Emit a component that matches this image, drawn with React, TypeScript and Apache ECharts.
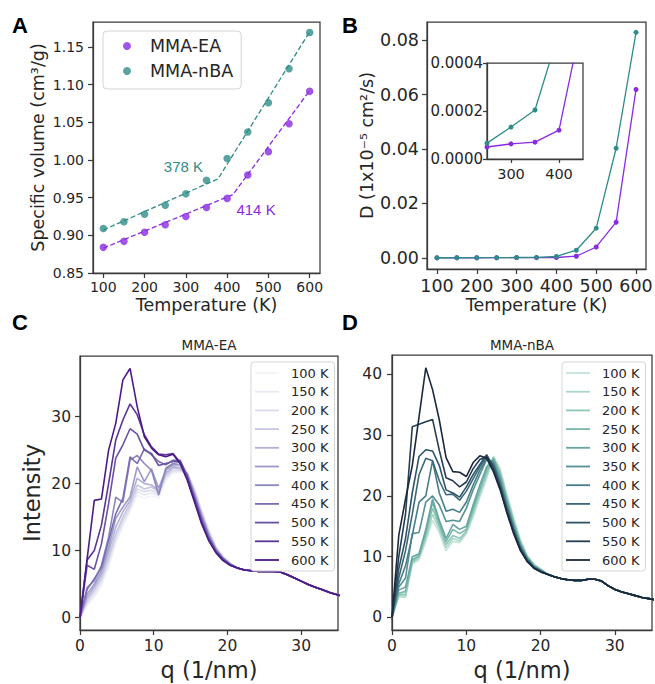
import React, { useEffect, useRef } from 'react';
import * as echarts from 'echarts';

// ---------- Panel A / B data ----------
const temps = [100, 150, 200, 250, 300, 350, 400, 450, 500, 550, 600];
const volEA = [0.884, 0.892, 0.904, 0.914, 0.925, 0.937, 0.949, 0.980, 1.011, 1.048, 1.091];
const volNBA = [0.909, 0.918, 0.928, 0.940, 0.955, 0.973, 1.002, 1.037, 1.076, 1.121, 1.169];
const fitTempEA = [100, 414, 600];
const fitVolEA = [0.883, 0.954, 1.092];
const fitTempNBA = [100, 378, 600];
const fitVolNBA = [0.907, 0.975, 1.170];
const diffEA = [0.00002, 0.00003, 0.00004, 0.00005, 0.000063, 0.00007, 0.00012, 0.0006, 0.0040, 0.0131, 0.0619];
const diffNBA = [0.00003, 0.00004, 0.00005, 0.000066, 0.000133, 0.000204, 0.00053, 0.0028, 0.0109, 0.0403, 0.0829];

const tempTicks = [100, 200, 300, 400, 500, 600];
const volTicks = [0.85, 0.9, 0.95, 1.0, 1.05, 1.1, 1.15];
const diffTicks = [0, 0.02, 0.04, 0.06, 0.08];
const insetTempTicks = [300, 400];
const insetDiffTicks = [0, 0.0002, 0.0004];
const qTicks = [0, 10, 20, 30];
const intTicksC = [0, 10, 20, 30];
const intTicksD = [0, 10, 20, 30, 40];
const curveLabels = ['100 K', '150 K', '200 K', '250 K', '300 K', '350 K', '400 K', '450 K', '500 K', '550 K', '600 K'];

// ---------- Panel C (MMA-EA) ----------
const qC = [0, 0.97, 1.94, 2.91, 3.88, 4.85, 5.82, 6.79, 7.76, 8.73, 9.70, 10.67, 11.64, 12.61, 13.58, 14.55, 15.52, 16.49, 17.46, 18.43, 19.40, 20.37, 21.34, 22.31, 23.28, 24.25, 25.22, 26.19, 27.16, 28.13, 29.10, 30.07, 31.04, 32.01, 32.98, 33.95, 34.92, 35.89];
const ea100 = [0, 1.8, 3.0, 4.8, 7.5, 11.0, 13.6, 15.8, 18.3, 17.8, 18.2, 17.8, 20.5, 21.6, 21.7, 21.6, 19.4, 16.2, 13.2, 10.7, 9.1, 8.1];
const ea150 = [0, 2.0, 3.4, 5.2, 8.0, 11.5, 14.0, 16.2, 18.8, 18.3, 18.6, 18.2, 20.8, 21.8, 21.8, 21.6, 19.2, 16.0, 13.0, 10.6, 9.1, 8.1];
const ea200 = [0, 2.3, 3.8, 5.6, 8.5, 12.0, 14.5, 16.5, 19.2, 18.8, 19.0, 18.5, 21.0, 22.0, 22.0, 21.6, 19.0, 15.8, 12.9, 10.5, 9.0, 8.1];
const ea250 = [0, 2.6, 4.2, 6.0, 9.0, 12.5, 15.0, 17.0, 19.8, 19.2, 19.5, 18.8, 21.3, 22.3, 22.2, 21.5, 18.8, 15.6, 12.7, 10.4, 9.0, 8.1];
const ea300 = [0, 3.0, 4.6, 6.5, 9.8, 13.5, 15.8, 17.5, 20.8, 20.0, 19.8, 19.0, 21.6, 22.5, 22.4, 21.5, 18.6, 15.4, 12.5, 10.3, 8.9, 8.0];
const ea350 = [0, 3.5, 5.0, 7.0, 10.5, 14.8, 16.5, 18.0, 22.5, 20.3, 22.2, 19.3, 22.0, 22.8, 22.8, 21.4, 18.4, 15.2, 12.4, 10.2, 8.9, 8.0];
const ea400 = [0, 4.5, 5.5, 7.8, 12.0, 18.0, 17.2, 23.5, 24.2, 23.0, 22.0, 18.3, 22.3, 23.0, 23.2, 21.3, 18.2, 15.0, 12.2, 10.1, 8.8, 8.0];
const ea450 = [0, 4.2, 5.8, 7.5, 11.5, 15.5, 17.8, 24.0, 23.0, 25.2, 24.3, 23.3, 22.8, 23.5, 23.5, 21.2, 18.0, 14.8, 12.0, 10.0, 8.8, 7.9];
const ea500 = [0, 7.8, 7.2, 11.0, 17.0, 23.8, 25.8, 28.2, 27.4, 25.0, 24.5, 22.7, 23.0, 23.3, 23.4, 21.0, 17.8, 14.5, 11.8, 9.9, 8.7, 7.9];
const ea550 = [0, 8.6, 10.0, 13.8, 20.0, 26.5, 29.5, 31.9, 30.3, 27.3, 25.5, 24.4, 24.3, 24.5, 23.2, 20.8, 17.5, 14.2, 11.6, 9.8, 8.6, 7.8];
const ea600 = [0, 8.8, 17.5, 17.7, 25.0, 29.0, 35.5, 37.2, 31.5, 27.0, 25.3, 24.3, 24.0, 24.4, 23.0, 20.5, 17.3, 14.0, 11.5, 9.7, 8.5, 7.8];
const eaTail = [7.4, 7.1, 7.0, 6.9, 6.9, 6.9, 6.8, 6.4, 5.9, 5.4, 4.9, 4.5, 4.1, 3.7, 3.4, 3.1];
const eaCurves = [ea100, ea150, ea200, ea250, ea300, ea350, ea400, ea450, ea500, ea550, ea600];

// ---------- Panel D (MMA-nBA) ----------
const qD = [0, 0.91, 1.82, 2.73, 3.64, 4.55, 5.46, 6.37, 7.28, 8.19, 9.10, 10.01, 10.92, 11.83, 12.74, 13.65, 14.56, 15.47, 16.38, 17.29, 18.20, 19.11, 20.02, 20.93, 21.84, 22.75, 23.66, 24.57, 25.48, 26.39, 27.30, 28.21, 29.12, 30.03, 30.94, 31.85, 32.76, 33.67, 34.58, 35.49];
const nba100 = [0, 3.4, 3.3, 8.8, 9.5, 12.5, 16.0, 14.0, 11.0, 12.5, 12.3, 13.8, 16.5, 19.8, 22.8, 26.5, 24.5, 20.3, 16.4, 12.8, 10.2, 8.8, 8.0];
const nba150 = [0, 3.6, 3.5, 9.0, 9.8, 13.0, 17.0, 14.5, 11.5, 13.0, 12.6, 14.0, 17.0, 20.3, 23.3, 26.4, 24.2, 20.0, 16.1, 12.6, 10.1, 8.7, 7.9];
const nba200 = [0, 3.8, 3.8, 9.2, 10.0, 13.5, 18.0, 15.0, 12.0, 13.5, 13.0, 14.2, 17.5, 20.8, 23.8, 26.3, 23.8, 19.6, 15.8, 12.4, 10.0, 8.6, 7.9];
const nba250 = [0, 4.0, 4.3, 9.5, 10.2, 14.0, 19.0, 15.5, 12.5, 14.5, 13.8, 14.5, 18.0, 21.2, 24.3, 26.2, 23.4, 19.3, 15.5, 12.2, 9.9, 8.5, 7.8];
const nba300 = [0, 4.5, 5.0, 10.0, 10.5, 14.5, 19.5, 16.0, 13.0, 15.3, 14.5, 15.0, 18.5, 21.8, 24.8, 26.0, 23.0, 19.0, 15.2, 12.0, 9.8, 8.5, 7.8];
const nba350 = [0, 5.0, 6.5, 13.8, 14.0, 19.0, 20.0, 18.5, 15.8, 16.0, 15.8, 18.0, 21.0, 23.5, 26.0, 25.6, 22.5, 18.6, 14.9, 11.8, 9.7, 8.4, 7.7];
const nba400 = [0, 5.5, 8.5, 13.5, 19.0, 20.0, 25.8, 20.5, 17.5, 17.8, 17.3, 19.0, 21.8, 24.2, 26.2, 25.3, 22.2, 18.3, 14.7, 11.6, 9.6, 8.3, 7.7];
const nba450 = [0, 6.5, 11.0, 17.0, 23.5, 26.2, 25.8, 22.5, 20.2, 20.3, 19.3, 20.8, 22.8, 24.8, 26.5, 25.0, 21.8, 18.0, 14.4, 11.4, 9.5, 8.3, 7.6];
const nba500 = [0, 8.0, 13.0, 20.5, 26.5, 27.6, 27.4, 25.0, 21.0, 20.5, 19.8, 21.5, 23.5, 25.2, 26.8, 24.8, 21.6, 17.7, 14.2, 11.3, 9.4, 8.2, 7.6];
const nba550 = [0, 10.0, 17.0, 31.4, 31.8, 32.2, 32.6, 27.5, 23.0, 22.5, 21.5, 22.3, 24.5, 26.0, 26.5, 24.3, 21.3, 17.4, 14.0, 11.1, 9.3, 8.1, 7.5];
const nba600 = [0, 13.5, 19.5, 25.0, 33.0, 41.1, 37.5, 32.5, 26.3, 24.0, 23.9, 23.2, 25.5, 26.6, 26.2, 24.0, 21.0, 17.2, 13.8, 11.0, 9.2, 8.1, 7.5];
const nbaTail = [7.1, 6.7, 6.4, 6.2, 6.1, 6.1, 6.3, 6.3, 6.0, 5.2, 4.6, 4.2, 3.9, 3.6, 3.3, 3.1, 2.9];
const nbaCurves = [nba100, nba150, nba200, nba250, nba300, nba350, nba400, nba450, nba500, nba550, nba600];

// ---------- styles ----------
const PURPLE = '#8a2be2';
const TEAL = '#2f8c88';
const AX = '#3a3a3a';
const TXT = '#262626';
const FONT = 'DejaVu Sans';
const PURPLES = ['#f3f2f8', '#e8e7f2', '#dadaeb', '#c6c7e1', '#b2b1d5', '#9e9ac8', '#8a87bf', '#796eb2', '#6a51a3', '#5b3596', '#4d1a89'];

function cubehelix(n: number, start: number, rot: number, light = 0.85, dark = 0.15, hue = 0.8): string[] {
  const out: string[] = [];
  for (let i = 0; i < n; i++) {
    const x = light + ((dark - light) * i) / (n - 1);
    const a = (hue * x * (1 - x)) / 2;
    const phi = 2 * Math.PI * (start / 3 + rot * x);
    const c = Math.cos(phi);
    const s = Math.sin(phi);
    const r = x + a * (-0.14861 * c + 1.78277 * s);
    const g = x + a * (-0.29227 * c - 0.90649 * s);
    const b = x + a * (1.97294 * c);
    const h = (v: number) => Math.round(Math.max(0, Math.min(1, v)) * 255).toString(16).padStart(2, '0');
    out.push('#' + h(r) + h(g) + h(b));
  }
  return out;
}
const GREENS = cubehelix(11, 2.892, -0.285);

const zip = (xs: number[], ys: number[]) => ys.map((y, i) => [xs[i], y]);

function axis(o: any) {
  return {
    type: 'value',
    gridIndex: o.grid,
    min: o.min,
    max: o.max,
    name: o.name || '',
    nameLocation: 'middle',
    nameGap: o.nameGap || 0,
    nameTextStyle: { fontSize: o.nameSize || 17.5, color: TXT, fontFamily: FONT },
    axisLine: { show: true, onZero: false, lineStyle: { color: AX, width: 1.25 } },
    axisTick: { show: true, inside: false, length: o.tickLen || 5, customValues: o.ticks, lineStyle: { color: AX, width: 1.25 } },
    axisLabel: {
      show: true,
      customValues: o.ticks,
      margin: o.margin || 8,
      fontSize: o.fontSize || 14,
      color: TXT,
      fontFamily: FONT,
      formatter: o.fmt || ((v: number) => String(v)),
    },
    splitLine: { show: false },
  };
}

function gridBox(left: number, top: number, width: number, height: number) {
  return {
    left, top, width, height,
    show: true,
    backgroundColor: '#fff',
    borderColor: AX,
    borderWidth: 1.25,
    containLabel: false,
    outerBoundsMode: 'none',
  };
}

function curveLegend(prefix: string, left: number) {
  return {
    data: curveLabels.map((t) => prefix + '|' + t),
    formatter: (name: string) => name.split('|')[1],
    orient: 'vertical',
    left,
    top: 362,
    padding: [4, 6, 4, 4],
    itemGap: 4.7,
    itemWidth: 24,
    itemHeight: 1.8,
    icon: 'rect',
    backgroundColor: 'rgba(255,255,255,0.85)',
    borderColor: '#d6d6d6',
    borderWidth: 1,
    borderRadius: 3,
    selectedMode: false,
    textStyle: { fontSize: 13, color: TXT, fontFamily: FONT, padding: [0, 0, 0, 7], lineHeight: 14 },
  };
}

export default function App() {
  const ref = useRef<HTMLDivElement>(null);
  useEffect(() => {
    document.body.style.margin = '0';
    const chart = echarts.init(ref.current!, null, { renderer: 'svg' });
    const f2 = (v: number) => v.toFixed(2);
    const f4 = (v: number) => v.toFixed(4);

    const series: any[] = [
      // Panel A fits
      {
        name: 'fitEA', type: 'line', xAxisIndex: 0, yAxisIndex: 0, data: zip(fitTempEA, fitVolEA),
        symbol: 'none', lineStyle: { color: PURPLE, width: 1.3, type: [5, 2.5] }, z: 2, silent: true,
        markPoint: {
          symbol: 'circle', symbolSize: 1, itemStyle: { color: 'rgba(0,0,0,0)' }, silent: true,
          label: { show: true, position: 'inside', formatter: '414 K', color: PURPLE, fontSize: 15, fontFamily: 'Liberation Sans' },
          data: [{ coord: [470, 0.9342] }],
        },
      },
      {
        name: 'fitNBA', type: 'line', xAxisIndex: 0, yAxisIndex: 0, data: zip(fitTempNBA, fitVolNBA),
        symbol: 'none', lineStyle: { color: TEAL, width: 1.3, type: [5, 2.5] }, z: 2, silent: true,
        markPoint: {
          symbol: 'circle', symbolSize: 1, itemStyle: { color: 'rgba(0,0,0,0)' }, silent: true,
          label: { show: true, position: 'inside', formatter: '378 K', color: TEAL, fontSize: 15, fontFamily: 'Liberation Sans' },
          data: [{ coord: [294, 0.9918] }],
        },
      },
      { name: 'MMA-EA', type: 'scatter', xAxisIndex: 0, yAxisIndex: 0, data: zip(temps, volEA), symbolSize: 7.5, itemStyle: { color: PURPLE }, z: 3 },
      { name: 'MMA-nBA', type: 'scatter', xAxisIndex: 0, yAxisIndex: 0, data: zip(temps, volNBA), symbolSize: 7.5, itemStyle: { color: TEAL }, z: 3 },
      // Panel B
      { name: 'B-EA', type: 'line', xAxisIndex: 1, yAxisIndex: 1, data: zip(temps, diffEA), symbol: 'circle', symbolSize: 5, itemStyle: { color: PURPLE }, lineStyle: { color: PURPLE, width: 1.3 } },
      { name: 'B-NBA', type: 'line', xAxisIndex: 1, yAxisIndex: 1, data: zip(temps, diffNBA), symbol: 'circle', symbolSize: 5, itemStyle: { color: TEAL }, lineStyle: { color: TEAL, width: 1.3 } },
      // Inset
      { name: 'I-EA', type: 'line', xAxisIndex: 2, yAxisIndex: 2, data: zip(temps, diffEA), clip: true, symbol: 'circle', symbolSize: 5, itemStyle: { color: PURPLE }, lineStyle: { color: PURPLE, width: 1.3 }, z: 5 },
      { name: 'I-NBA', type: 'line', xAxisIndex: 2, yAxisIndex: 2, data: zip(temps, diffNBA), clip: true, symbol: 'circle', symbolSize: 5, itemStyle: { color: TEAL }, lineStyle: { color: TEAL, width: 1.3 }, z: 5 },
    ];

    eaCurves.forEach((c, i) => {
      series.push({
        name: 'C|' + curveLabels[i], type: 'line', xAxisIndex: 3, yAxisIndex: 3,
        data: zip(qC, [...c, ...eaTail]), symbol: 'none', clip: true,
        itemStyle: { color: PURPLES[i] }, lineStyle: { color: PURPLES[i], width: 1.6 },
      });
    });
    nbaCurves.forEach((c, i) => {
      series.push({
        name: 'D|' + curveLabels[i], type: 'line', xAxisIndex: 4, yAxisIndex: 4,
        data: zip(qD, [...c, ...nbaTail]), symbol: 'none', clip: true,
        itemStyle: { color: GREENS[i] }, lineStyle: { color: GREENS[i], width: 1.6 },
      });
    });

    const letter = (t: string, x: number, y: number) => ({
      type: 'text', x, y,
      style: { text: t, fontSize: 22, fontWeight: 'bold', fontFamily: 'Liberation Sans', fill: '#000', textVerticalAlign: 'top' },
    });
    const title = (t: string, x: number, y: number) => ({
      type: 'text', x, y,
      style: { text: t, fontSize: 13.5, fontFamily: FONT, fill: TXT, textAlign: 'center', textVerticalAlign: 'middle' },
    });

    chart.setOption({
      animation: false,
      backgroundColor: '#fff',
      grid: [
        gridBox(93, 22, 227, 251),
        gridBox(427, 22, 219, 247),
        gridBox(487, 63, 96, 96),
        gridBox(80, 356, 258, 274),
        gridBox(392, 355, 260, 275),
      ],
      xAxis: [
        axis({ grid: 0, min: 75, max: 625, ticks: tempTicks, name: 'Temperature (K)', nameGap: 23, fontSize: 14, margin: 7 }),
        axis({ grid: 1, min: 75, max: 625, ticks: tempTicks, name: 'Temperature (K)', nameGap: 27, fontSize: 17.5, margin: 8 }),
        axis({ grid: 2, min: 250, max: 450, ticks: insetTempTicks, fontSize: 14.5, margin: 7, tickLen: 4 }),
        axis({ grid: 3, min: 0, max: 35, ticks: qTicks, name: 'q (1/nm)', nameGap: 28, nameSize: 22.5, fontSize: 15.5, margin: 8 }),
        axis({ grid: 4, min: 0, max: 35, ticks: qTicks, name: 'q (1/nm)', nameGap: 28, nameSize: 22.5, fontSize: 15.5, margin: 8 }),
      ],
      yAxis: [
        axis({ grid: 0, min: 0.85, max: 1.183, ticks: volTicks, name: 'Specific volume (cm³/g)', nameGap: 46, fontSize: 14, margin: 9, fmt: f2 }),
        axis({ grid: 1, min: -0.0041, max: 0.0867, ticks: diffTicks, name: 'D (1x10⁻⁵ cm²/s)', nameGap: 51, fontSize: 17.5, margin: 8, fmt: f2 }),
        axis({ grid: 2, min: 0, max: 0.0004, ticks: insetDiffTicks, fontSize: 15, margin: 4, tickLen: 4, fmt: f4 }),
        axis({ grid: 3, min: -1.86, max: 39.06, ticks: intTicksC, name: 'Intensity', nameGap: 37, nameSize: 22.5, fontSize: 15.5, margin: 9 }),
        axis({ grid: 4, min: -2.06, max: 43.2, ticks: intTicksD, fontSize: 15.5, margin: 10 }),
      ],
      legend: [
        {
          data: ['MMA-EA', 'MMA-nBA'],
          orient: 'vertical', left: 103, top: 31,
          padding: [6, 8, 9, 20], itemGap: 7, itemWidth: 28, itemHeight: 8, icon: 'circle',
          backgroundColor: '#fff', borderColor: '#d5d5d5', borderWidth: 1, borderRadius: 4,
          selectedMode: false,
          textStyle: { fontSize: 17.5, color: TXT, fontFamily: FONT, padding: [0, 0, 0, 4], lineHeight: 18 },
        },
        curveLegend('C', 251),
        curveLegend('D', 562),
      ],
      graphic: [
        letter('A', 12, 14),
        letter('B', 342, 14),
        letter('C', 12, 311),
        letter('D', 342, 311),
        title('MMA-EA', 209, 345),
        title('MMA-nBA', 522, 345),
      ],
      series,
    });
    return () => chart.dispose();
  }, []);
  return <div ref={ref} style={{ position: 'fixed', left: 0, top: 0, width: 655, height: 684 }} />;
}
